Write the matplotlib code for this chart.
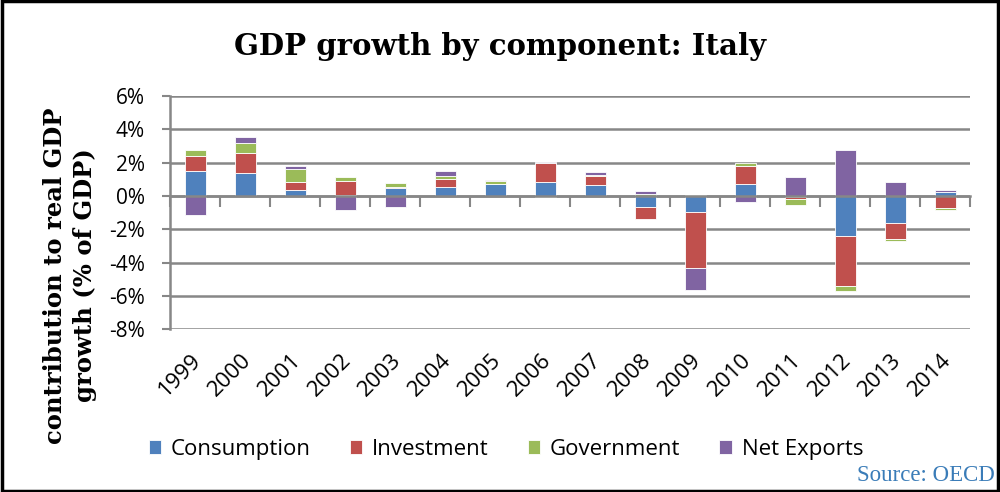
import matplotlib
matplotlib.use("Agg")
import matplotlib.pyplot as plt
import matplotlib.transforms as mtransforms
from matplotlib.patches import Rectangle
import numpy as np

years = ["1999", "2000", "2001", "2002", "2003", "2004", "2005", "2006",
         "2007", "2008", "2009", "2010", "2011", "2012", "2013", "2014"]
consumption = [1.50, 1.40, 0.36, 0.04, 0.46, 0.56, 0.72, 0.84,
               0.64, -0.68, -0.94, 0.74, -0.04, -2.40, -1.64, 0.22]
investment = [0.92, 1.20, 0.48, 0.88, 0.08, 0.48, 0.02, 1.16,
              0.56, -0.72, -3.40, 1.08, -0.16, -3.00, -0.96, -0.70]
government = [0.32, 0.60, 0.80, 0.24, 0.26, 0.18, 0.14, -0.05,
              0.08, 0.12, 0.04, 0.14, -0.34, -0.30, -0.08, -0.14]
net_exports = [-1.16, 0.36, 0.14, -0.84, -0.66, 0.28, 0.08, 0.04,
               0.18, 0.20, -1.30, -0.36, 1.14, 2.76, 0.86, 0.14]

series_names = ["Consumption", "Investment", "Government", "Net Exports"]
series_vals = [consumption, investment, government, net_exports]
colors = ["#4F81BD", "#C0504D", "#9BBB59", "#8064A2"]
yticks = [6, 4, 2, 0, -2, -4, -6, -8]

fig = plt.figure(figsize=(10, 4.92), dpi=100)
ax = fig.add_axes([0.17, 0.331, 0.80, 0.474])

x = np.arange(len(years))
pos_bottom = np.zeros(len(years))
neg_bottom = np.zeros(len(years))
for name, vals, c in zip(series_names, series_vals, colors):
    v = np.array(vals, dtype=float)
    bottoms = np.where(v >= 0, pos_bottom, neg_bottom)
    ax.bar(x, v, width=0.42, bottom=bottoms, color=c, edgecolor="#ffffff",
           linewidth=0.6, label=name, zorder=3)
    pos_bottom = pos_bottom + np.where(v >= 0, v, 0)
    neg_bottom = neg_bottom + np.where(v < 0, v, 0)

ax.set_xlim(-0.5, len(years) - 0.5)
ax.set_ylim(-8, 6)
ax.set_yticks(yticks)
ax.set_yticklabels([f"{t}%" for t in yticks], fontfamily="Open Sans", fontsize=15)
ax.tick_params(axis="y", length=6, width=1.5, color="#878787", pad=12)
ax.yaxis.grid(True, color="#878787", linewidth=1.8, zorder=0)
ax.set_axisbelow(True)

for s in ["top", "right"]:
    ax.spines[s].set_visible(False)
ax.spines["left"].set_color("#878787")
ax.spines["left"].set_linewidth(1.8)
ax.spines["bottom"].set_position(("data", 0))
ax.spines["bottom"].set_color("#878787")
ax.spines["bottom"].set_linewidth(1.8)
ax.spines["bottom"].set_zorder(4)

ax.set_xticks(np.arange(len(years) + 1) - 0.5)
ax.set_xticklabels([])
ax.tick_params(axis="x", direction="out", length=8, width=1.5, color="#878787")

trans = ax.get_xaxis_transform()
offset = mtransforms.ScaledTranslation(3 / 100, -28 / 100, fig.dpi_scale_trans)
for xi, lab in zip(x, years):
    ax.text(xi, 0, lab, transform=trans + offset, rotation=45,
            rotation_mode="anchor", ha="right", va="center",
            fontfamily="Open Sans", fontsize=16)

fig.text(0.5, 0.905, "GDP growth by component: Italy", ha="center", va="center",
         fontfamily="DejaVu Serif", fontweight="bold", fontsize=21)
fig.text(0.07, 0.44, "contribution to real GDP\ngrowth (% of GDP)", ha="center",
         va="center", rotation=90, fontfamily="DejaVu Serif",
         fontweight="bold", fontsize=17.5, linespacing=1.3)

leg = fig.legend(loc="center", bbox_to_anchor=(0.506, 0.087), ncol=4, frameon=False,
                 prop={"family": "Open Sans", "size": 16}, handlelength=0.55,
                 handleheight=0.55, handletextpad=0.45, columnspacing=1.75)

fig.text(0.995, 0.033, "Source: OECD", ha="right", va="center",
         fontfamily="Liberation Serif", fontsize=16.5, color="#3A7CB8")

fig.patches.append(Rectangle((0.002, 0.003), 0.996, 0.994, transform=fig.transFigure,
                             fill=False, edgecolor="black", linewidth=2.5))

fig.savefig("out.png", dpi=100)
